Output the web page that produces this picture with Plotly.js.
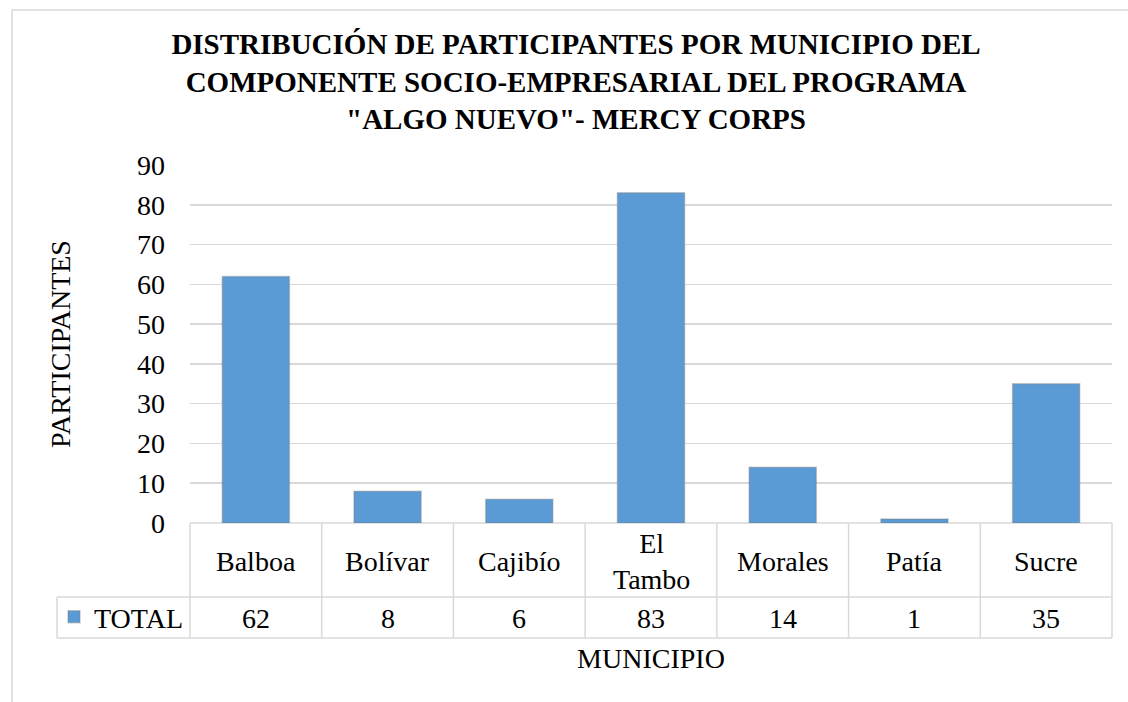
<!DOCTYPE html>
<html>
<head>
<meta charset="utf-8">
<script src="https://cdn.plot.ly/plotly-3.0.1.min.js"></script>
<style>
  html, body { margin: 0; padding: 0; background: #fff; }
  #chart { width: 1128px; height: 702px; }
</style>
</head>
<body>
<div id="chart"></div>
<script>
// data
const municipios = ['Balboa', 'Bolívar', 'Cajibío', 'El Tambo', 'Morales', 'Patía', 'Sucre'];
const headerLabels = ['Balboa', 'Bolívar', 'Cajibío', 'El<br>Tambo', 'Morales', 'Patía', 'Sucre'];
const totals = [62, 8, 6, 83, 14, 1, 35];
const yTicks = [0, 10, 20, 30, 40, 50, 60, 70, 80, 90];

const W = 1128, H = 702;
const plotL = 190, plotR = 1112, plotT = 165, plotB = 523;
const plotW = plotR - plotL, plotH = plotB - plotT;

// pixel -> paper helpers for the data table / frame
const px = x => (x - plotL) / plotW;
const py = y => (plotB - y) / plotH;

const font = 'Liberation Serif';
const fs = 28;
const lineCol = '#d9d9d9';
const rowSplit = py(597), tableBottom = py(638), legendLeft = px(57);

const shapes = [];
const line = (x0, y0, x1, y1) => shapes.push({
  type: 'line', xref: 'paper', yref: 'paper', x0, y0, x1, y1,
  line: { color: lineCol, width: 1.5 }, layer: 'below'
});

// chart frame
line(px(12), py(10), px(12), py(H + 5));
line(px(12), py(10), px(W + 5), py(10));

// data table grid
line(0, 0, 1, 0);
line(legendLeft, rowSplit, 1, rowSplit);
line(legendLeft, tableBottom, 1, tableBottom);
line(legendLeft, rowSplit, legendLeft, tableBottom);
for (let k = 0; k <= municipios.length; k++) {
  line(k / municipios.length, 0, k / municipios.length, tableBottom);
}

const annotations = [];
municipios.forEach((m, i) => {
  annotations.push({
    x: m, xref: 'x', y: py(561), yref: 'paper', yanchor: 'middle', text: headerLabels[i],
    showarrow: false, font: { family: font, size: fs, color: '#000' }
  });
  annotations.push({
    x: m, xref: 'x', y: py(618), yref: 'paper', yanchor: 'middle', text: String(totals[i]),
    showarrow: false, font: { family: font, size: fs, color: '#000' }
  });
});

const trace = {
  x: municipios,
  y: totals,
  type: 'bar',
  name: 'TOTAL',
  marker: {
    color: '#5b9bd5',
    line: { color: 'rgba(120,120,120,0.35)', width: 1.5 }
  },
  hoverinfo: 'x+y'
};

const layout = {
  width: W,
  height: H,
  margin: { l: plotL, r: W - plotR, t: plotT, b: H - plotB },
  paper_bgcolor: '#fff',
  plot_bgcolor: '#fff',
  font: { family: font, size: fs, color: '#000' },
  title: {
    text: '<b>DISTRIBUCIÓN DE PARTICIPANTES POR MUNICIPIO DEL<br>COMPONENTE SOCIO-EMPRESARIAL DEL PROGRAMA<br>"ALGO NUEVO"- MERCY CORPS</b>',
    font: { family: font, size: 29, color: '#000' },
    x: 576 / W, xref: 'container', xanchor: 'center',
    y: 1 - 54 / H, yref: 'container', yanchor: 'middle'
  },
  bargap: 0.49,
  showlegend: true,
  legend: {
    x: px(54), xanchor: 'left',
    y: py(617), yanchor: 'middle',
    font: { family: font, size: fs, color: '#000' },
    itemwidth: 30,
    bgcolor: 'rgba(0,0,0,0)'
  },
  xaxis: {
    type: 'category',
    range: [-0.5, municipios.length - 0.5],
    showticklabels: false,
    showgrid: false,
    zeroline: false,
    ticks: '',
    title: { text: 'MUNICIPIO', font: { family: font, size: fs, color: '#000' }, standoff: 125 },
    automargin: true,
    fixedrange: true
  },
  yaxis: {
    range: [0, 90],
    tickvals: yTicks,
    ticks: '',
    ticklabelstandoff: 24,
    showgrid: true,
    gridcolor: lineCol,
    gridwidth: 1.5,
    zeroline: false,
    showline: false,
    tickfont: { family: font, size: fs, color: '#000' },
    title: { text: 'PARTICIPANTES', font: { family: font, size: fs, color: '#000' }, standoff: 58 },
    automargin: true,
    fixedrange: true
  },
  shapes: shapes,
  annotations: annotations
};

Plotly.newPlot('chart', [trace], layout, { displayModeBar: false, staticPlot: true });
</script>
</body>
</html>
